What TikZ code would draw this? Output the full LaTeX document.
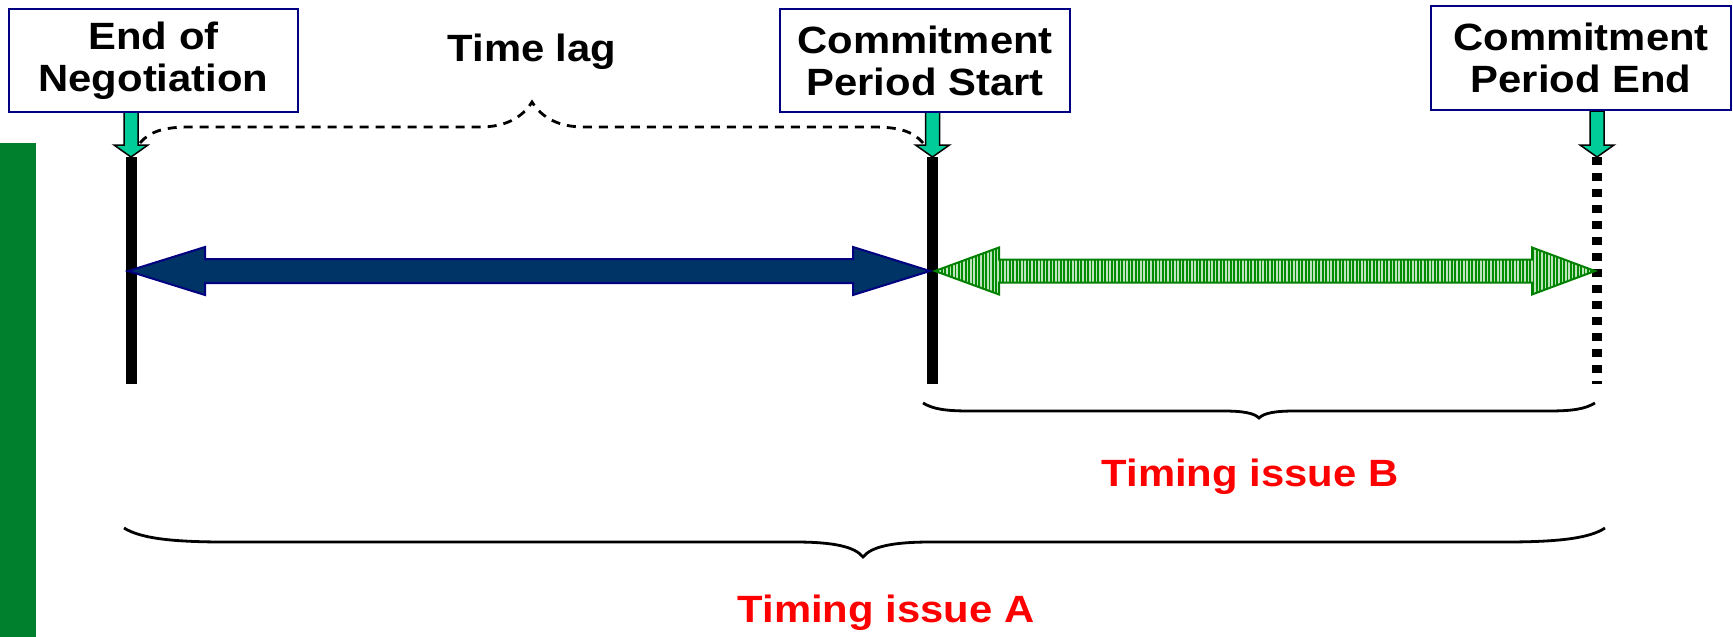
\documentclass[tikz,border=0pt]{standalone}
\usepackage{fontspec}
\setmainfont{Liberation Sans}[FakeStretch=1.1]
\usetikzlibrary{calc,patterns.meta}

\definecolor{boxblue}{RGB}{0,0,128}
\definecolor{navyfill}{RGB}{0,51,102}
\definecolor{pointerteal}{RGB}{0,204,153}
\definecolor{sidebar}{RGB}{0,128,45}
\definecolor{stripegreen}{RGB}{0,140,0}
\definecolor{palegreen}{RGB}{190,228,190}
\definecolor{hatchedge}{RGB}{0,128,0}
\definecolor{issuered}{RGB}{255,0,0}

\begin{document}
\begin{tikzpicture}[x=1pt,y=-1pt,
  labeltext/.style={font=\fontsize{38}{42}\selectfont\bfseries, inner sep=0pt},
  eventbox/.style={labeltext, draw=boxblue, line width=2.5pt, fill=white, align=center},
  pointer/.style={fill=pointerteal, draw=black, line width=1.5pt, line join=miter},
  timebar/.style={line width=11pt},
  openbar/.style={line width=10pt, dash pattern=on 8pt off 8pt},
  bracket/.style={line width=2.8pt},
  lagbracket/.style={bracket, dash pattern=on 9pt off 7pt},
  solidspan/.style={fill=navyfill, draw=boxblue, line width=2pt},
  hatchspan/.style={draw=hatchedge, line width=2pt, preaction={fill=palegreen},
    pattern={Lines[angle=90,distance=3.4pt,line width=1.8pt]}, pattern color=stripegreen},
]
\useasboundingbox (0,0) rectangle (1733,637);

% green side bar
\fill[sidebar] (0,143) rectangle (36,637);

% time markers
\coordinate (t1) at (131,157);   \coordinate (b1) at (131,384);
\coordinate (t2) at (932.5,157); \coordinate (b2) at (932.5,384);
\coordinate (t3) at (1597,157);  \coordinate (b3) at (1597,384);
\draw[timebar] (t1) -- (b1);
\draw[timebar] (t2) -- (b2);
\draw[openbar] (t3) -- (b3);

% span arrows
\coordinate (m1) at (128,271);
\coordinate (m2) at (930,271);
\coordinate (m2r) at (935,271);
\coordinate (m3) at (1595,271);
\draw[solidspan] (m1) -- ($(m1)+(77,-24)$) -- ($(m1)+(77,-12)$) -- ($(m2)+(-77,-12)$)
  -- ($(m2)+(-77,-24)$) -- (m2) -- ($(m2)+(-77,24)$) -- ($(m2)+(-77,12)$)
  -- ($(m1)+(77,12)$) -- ($(m1)+(77,24)$) -- cycle;
\draw[hatchspan] (m2r) -- ($(m2r)+(64,-23.5)$) -- ($(m2r)+(64,-11.5)$) -- ($(m3)+(-63,-11.5)$)
  -- ($(m3)+(-63,-23.5)$) -- (m3) -- ($(m3)+(-63,23.5)$) -- ($(m3)+(-63,11.5)$)
  -- ($(m2r)+(64,11.5)$) -- ($(m2r)+(64,23.5)$) -- cycle;

% pointers from the boxes to the markers
\draw[pointer] (t1) -- ++(-17,-12) -- ++(10,0) -- ++(0,-34) -- ++(14,0) -- ++(0,34) -- ++(10,0) -- cycle;
\draw[pointer] (t2) -- ++(-17,-12) -- ++(10,0) -- ++(0,-34) -- ++(14,0) -- ++(0,34) -- ++(10,0) -- cycle;
\draw[pointer] (t3) -- ++(-17,-12) -- ++(10,0) -- ++(0,-34) -- ++(14,0) -- ++(0,34) -- ++(10,0) -- cycle;

% time lag brace (dashed)
\draw[lagbracket] (140,143) .. controls (150,131) and (165,127) .. (190,127)
  -- (480,127) .. controls (505,127) and (522,118) .. (532,102)
  .. controls (542,118) and (559,127) .. (584,127)
  -- (873,127) .. controls (898,127) and (913,131) .. (923,143);

% brace under the commitment period
\draw[bracket] (923,403) .. controls (933,409) and (945,411) .. (970,411)
  -- (1223,411) .. controls (1243,411) and (1254,413) .. (1259,418)
  .. controls (1264,413) and (1275,411) .. (1295,411)
  -- (1548,411) .. controls (1573,411) and (1585,409) .. (1595,403);

% brace under the whole span
\draw[bracket] (124,528) .. controls (140,538) and (170,542) .. (225,542)
  -- (795,542) .. controls (835,542) and (855,547) .. (863,557)
  .. controls (871,547) and (891,542) .. (931,542)
  -- (1505,542) .. controls (1560,542) and (1590,538) .. (1605,528);

% event boxes
\node[eventbox, minimum width=289pt, minimum height=103pt] (neg) at (153.5,60.5) {End of\\Negotiation};
\node[eventbox, minimum width=290pt, minimum height=103pt] (cpstart) at (925,60.5) {Commitment\\Period Start};
\node[eventbox, minimum width=300pt, minimum height=104pt] (cpend) at (1581,58) {Commitment\\Period End};

% labels
\node[labeltext, anchor=base] (lag) at (532,61) {Time lag};
\node[labeltext, anchor=base, text=issuered] (issueB) at (1250,486) {Timing issue B};
\node[labeltext, anchor=base, text=issuered] (issueA) at (886,622) {Timing issue A};
\end{tikzpicture}
\end{document}
